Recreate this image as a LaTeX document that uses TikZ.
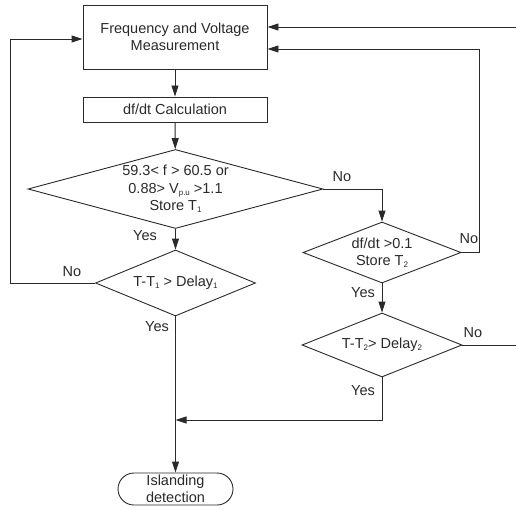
\documentclass[tikz,border=0pt]{standalone}
\usepackage{fontspec}
\setmainfont{Liberation Sans}
\usetikzlibrary{shapes.geometric,shapes.misc,arrows.meta}
\definecolor{ink}{HTML}{2A2A2A}
\newcommand{\tinysub}[1]{\raisebox{-0.25ex}{\fontsize{8}{8}\selectfont #1}}
\tikzset{
  box/.style={draw=ink, line width=0.9pt, rectangle, inner sep=0pt, align=center, text=ink},
  dia/.style={draw=ink, line width=0.9pt, diamond, inner sep=0pt},
  txt/.style={align=center, text=ink, inner sep=0pt},
  term/.style={draw=ink, line width=0.9pt, rounded rectangle, inner sep=0pt, align=center, text=ink},
  lbl/.style={text=ink, inner sep=0pt},
  conn/.style={draw=ink, line width=0.9pt},
  arr/.style={conn, -{Triangle[length=11pt,width=7pt]}},
}
\begin{document}
\begin{tikzpicture}[x=1pt,y=-1pt,font=\fontsize{14.5}{17.5}\selectfont]
\useasboundingbox (0,0) rectangle (516,508);
\node[box, minimum width=184pt, minimum height=64pt] (m) at (175,37) {Frequency and Voltage\\Measurement};
\node[box, minimum width=184pt, minimum height=25pt] (c) at (175,109.5) {df/dt Calculation};
\node[dia, minimum width=295pt, minimum height=79pt] (d1) at (175.5,189) {};
\node[txt] (t1) at (d1) {59.3< f > 60.5 or\\0.88> V\tinysub{p.u} >1.1\\Store T\tinysub{1}};
\node[dia, minimum width=158pt, minimum height=61pt] (d2) at (382,252.5) {};
\node[txt] (t2) at (d2) {df/dt >0.1\\Store T\tinysub{2}};
\node[dia, minimum width=160pt, minimum height=66pt] (d3) at (175.5,283) {};
\node[txt] (t3) at (d3) {T-T\tinysub{1} > Delay\tinysub{1}};
\node[dia, minimum width=160pt, minimum height=64pt] (d4) at (382,345) {};
\node[txt] (t4) at (d4) {T-T\tinysub{2}> Delay\tinysub{2}};
\node[term, minimum width=115pt, minimum height=32pt, rounded rectangle arc length=180] (isl) at (175.5,489) {Islanding\\detection};

\coordinate (inTop) at (516,27);
\coordinate (outNo4) at (516,345);
\coordinate (join) at (175.5,420);

\draw[arr] (m) -- (c);
\draw[arr] (c) -- (d1);
\draw[arr] (d1.east) -| (d2.north);
\draw[arr] (d1.south) -- (d3.north);
\draw[arr] (d3.west) -- (10,283) |- ([yshift=-2pt]m.west);
\draw[arr] (d2.east) -- (479,252.5) |- ([yshift=-12pt]m.east);
\draw[arr] (inTop) -- (m.east |- inTop);
\draw[arr] (d2.south) -- (d4.north);
\draw[conn] (d4.east) -- (outNo4);
\draw[arr] (d4.south) |- (join);
\draw[arr] (d3.south) -- (isl.north);

\node[lbl] at (342,177) {No};
\node[lbl] at (145,236) {Yes};
\node[lbl] at (72,272) {No};
\node[lbl] at (469,239) {No};
\node[lbl] at (363,293) {Yes};
\node[lbl] at (473,333) {No};
\node[lbl] at (363,391) {Yes};
\node[lbl] at (157,327) {Yes};
\end{tikzpicture}
\end{document}
